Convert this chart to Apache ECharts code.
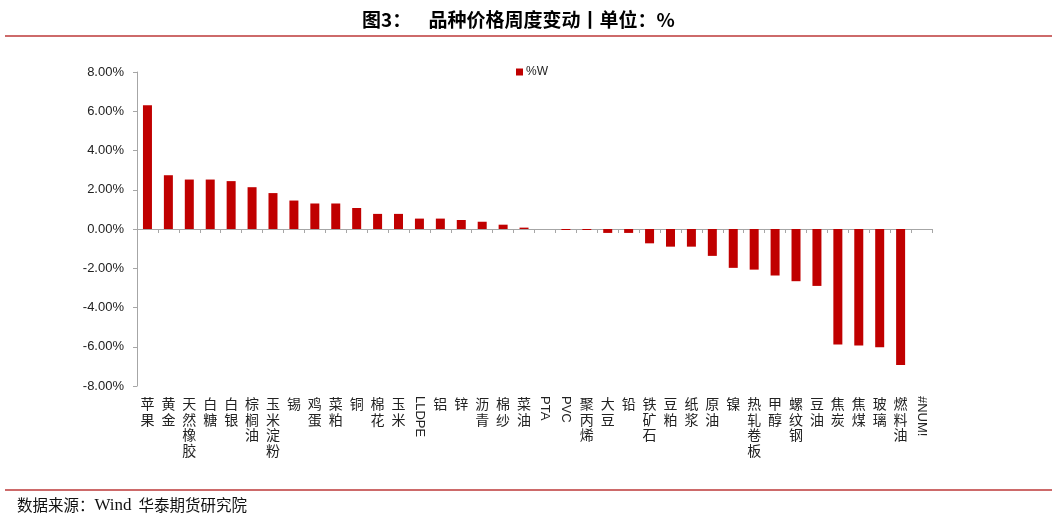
<!DOCTYPE html>
<html>
<head>
<meta charset="utf-8">
<script src="https://cdn.jsdelivr.net/npm/echarts@6/dist/echarts.min.js"></script>
<style>
html,body{margin:0;padding:0;background:#fff;}
#main{width:1057px;height:519px;}
</style>
</head>
<body>
<div id="main"></div>
<script>
const categories = ['苹果','黄金','天然橡胶','白糖','白银','棕榈油','玉米淀粉','锡','鸡蛋','菜粕','铜','棉花','玉米','LLDPE','铝','锌','沥青','棉纱','菜油','PTA','PVC','聚丙烯','大豆','铅','铁矿石','豆粕','纸浆','原油','镍','热轧卷板','甲醇','螺纹钢','豆油','焦炭','焦煤','玻璃','燃料油','#NUM!'];
const weeklyChange = [6.3,2.74,2.52,2.52,2.44,2.13,1.83,1.45,1.30,1.30,1.07,0.77,0.77,0.53,0.53,0.46,0.37,0.22,0.07,0,-0.05,-0.05,-0.2,-0.2,-0.73,-0.9,-0.9,-1.37,-1.98,-2.07,-2.37,-2.66,-2.9,-5.88,-5.94,-6.03,-6.93,null];
const yTicks = {min:-8, max:8, interval:2};
const seriesName = '%W';
const titleText = '图3：    品种价格周度变动丨单位：%';

const isLatin = s => /^[\x00-\x7F]+$/.test(s);

const chart = echarts.init(document.getElementById('main'), null, {renderer:'canvas'});
const labelColor = '#222';
const axisColor = '#a6a6a6';

chart.setOption({
  animation:false,
  backgroundColor:'#fff',
  title:{
    text:titleText,
    left:357, top:5,
    textStyle:{fontFamily:'Noto Sans CJK SC', fontWeight:'bold', fontSize:19, color:'#000'}
  },
  legend:{
    data:[seriesName],
    left:516, top:66, padding:0,
    itemWidth:7, itemHeight:7, icon:'rect', itemGap:4,
    textStyle:{fontFamily:'Liberation Sans', fontSize:12, color:'#222', padding:[0,0,0,-2]}
  },
  grid:{left:137, right:125, top:72, bottom:133, containLabel:false},
  xAxis:[
    {
      type:'category', data:categories,
      axisLine:{onZero:true, lineStyle:{color:axisColor, width:1}},
      axisTick:{show:true, interval:0, length:4, lineStyle:{color:axisColor}},
      axisLabel:{show:false},
      splitLine:{show:false}
    },
    {
      type:'category', data:categories, position:'bottom',
      axisLine:{show:false, onZero:false}, axisTick:{show:false},
      axisLabel:{
        show:true, interval:0, margin:10, color:labelColor,
        fontFamily:'Noto Sans CJK SC', fontSize:14, lineHeight:15.5,
        verticalAlign:'top',
        formatter: v => isLatin(v) ? '' : v.split('').join('\n')
      }
    },
    {
      type:'category', data:categories, position:'bottom',
      axisLine:{show:false, onZero:false}, axisTick:{show:false},
      axisLabel:{
        show:true, interval:0, margin:10, rotate:-90, color:labelColor,
        fontFamily:'Liberation Sans', fontSize:13,
        formatter: v => isLatin(v) ? v : ''
      }
    }
  ],
  yAxis:{
    type:'value', min:yTicks.min, max:yTicks.max, interval:yTicks.interval,
    axisLine:{show:true, lineStyle:{color:axisColor}},
    axisTick:{show:true, length:4, lineStyle:{color:axisColor}},
    splitLine:{show:false},
    axisLabel:{margin:13, color:labelColor, fontFamily:'Liberation Sans', fontSize:13,
      formatter: v => v.toFixed(2) + '%'}
  },
  series:[{
    name:seriesName, type:'bar', xAxisIndex:0,
    data:weeklyChange, barWidth:9,
    itemStyle:{color:'#C00000'}
  }],
  graphic:[
    {type:'line', shape:{x1:5,y1:36,x2:1052,y2:36}, style:{stroke:'#cd6a6a', lineWidth:2}},
    {type:'line', shape:{x1:5,y1:490,x2:1052,y2:490}, style:{stroke:'#cd6a6a', lineWidth:2}},
    {type:'text', left:17, top:497, style:{
      text:'{c|数据来源：}{w|Wind}{c|  华泰期货研究院}',
      rich:{
        c:{fontFamily:'Noto Sans CJK SC', fontSize:15.5, fill:'#111'},
        w:{fontFamily:'Liberation Serif', fontSize:17, fill:'#111'}
      }
    }}
  ]
});
</script>
</body>
</html>
